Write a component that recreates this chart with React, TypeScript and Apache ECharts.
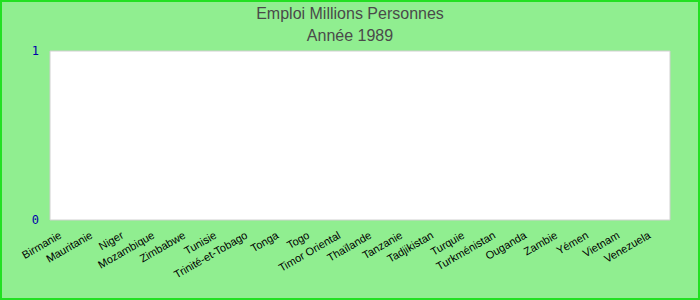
import React, { useEffect, useRef } from "react";
import * as echarts from "echarts";

const titleText = "Emploi Millions Personnes";
const subTitleText = "Année 1989";
const categories = [
  "Birmanie", "Mauritanie", "Niger", "Mozambique", "Zimbabwe", "Tunisie",
  "Trinité-et-Tobago", "Tonga", "Togo", "Timor Oriental", "Thaïlande", "Tanzanie",
  "Tadjikistan", "Turquie", "Turkménistan", "Ouganda", "Zambie", "Yémen",
  "Vietnam", "Venezuela",
];
const values: (number | null)[] = [
  null, null, null, null, null, null, null, null, null, null,
  null, null, null, null, null, null, null, null, null, null,
];
const yMin = 0;
const yMax = 1;
const yInterval = 1;

export default function App() {
  const ref = useRef<HTMLDivElement>(null);
  useEffect(() => {
    document.body.style.margin = "0";
    if (!ref.current) return;
    const chart = echarts.init(ref.current, undefined, { renderer: "svg" });
    chart.setOption({
      animation: false,
      backgroundColor: "#90ee90",
      title: {
        text: titleText,
        subtext: subTitleText,
        left: "center",
        top: 0,
        itemGap: 6,
        textStyle: { fontFamily: "Liberation Sans", fontSize: 16, fontWeight: "normal", color: "#4a4a4a" },
        subtextStyle: { fontFamily: "Liberation Sans", fontSize: 16, color: "#4a4a4a" },
      },
      graphic: [
        {
          type: "rect",
          shape: { x: 1, y: 1, width: 698, height: 298 },
          style: { fill: "none", stroke: "#22e022", lineWidth: 2 },
          silent: true,
          z: 100,
        },
      ],
      grid: {
        left: 50,
        right: 30,
        top: 51,
        bottom: 80,
        show: true,
        backgroundColor: "#ffffff",
        borderColor: "#d0d0d0",
        borderWidth: 1,
      },
      xAxis: {
        type: "category",
        data: categories,
        axisLine: { show: false },
        axisTick: { show: false },
        axisLabel: {
          interval: 0,
          rotate: 30,
          fontFamily: "Liberation Sans",
          fontSize: 11,
          color: "#000000",
          margin: 11,
          padding: [0, 6, 0, 0],
        },
      },
      yAxis: {
        type: "value",
        min: yMin,
        max: yMax,
        interval: yInterval,
        axisLine: { show: false },
        axisTick: { show: false },
        splitLine: { show: false },
        axisLabel: {
          fontFamily: "DejaVu Sans Mono",
          fontSize: 12,
          color: "#0000aa",
          margin: 11,
        },
      },
      series: [
        {
          type: "bar",
          data: values,
        },
      ],
    });
    return () => chart.dispose();
  }, []);
  return <div ref={ref} style={{ width: 700, height: 300 }} />;
}
